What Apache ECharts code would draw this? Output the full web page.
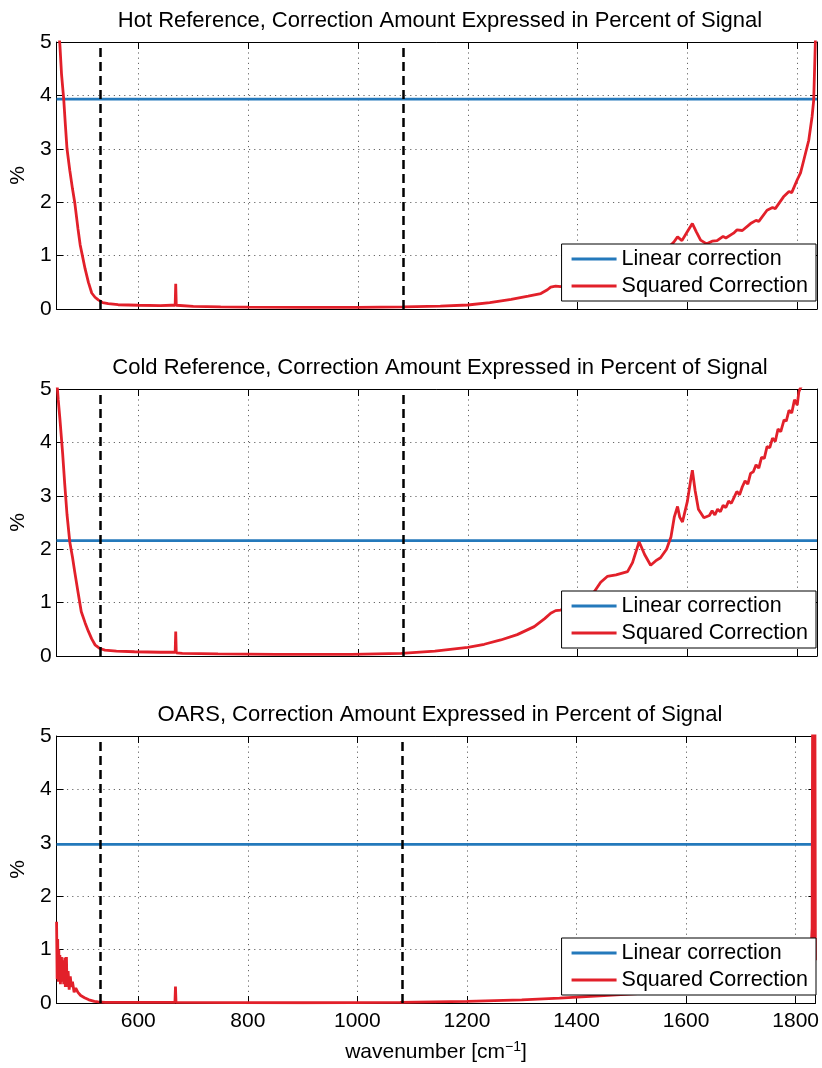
<!DOCTYPE html>
<html>
<head>
<meta charset="utf-8">
<script src="https://cdn.jsdelivr.net/npm/echarts@6/dist/echarts.min.js"></script>
<style>
html,body{margin:0;padding:0;background:#fff;}
#chart{width:822px;height:1068px;}
</style>
</head>
<body>
<div id="chart"></div>
<script>
// ---------- data ----------
const titles = [
  'Hot Reference, Correction Amount Expressed in Percent of Signal',
  'Cold Reference, Correction Amount Expressed in Percent of Signal',
  'OARS, Correction Amount Expressed in Percent of Signal'
];
const xTicks = [600, 800, 1000, 1200, 1400, 1600, 1800];
const yTicks = [0, 1, 2, 3, 4, 5];
const xRange = [451, 1836];
const cutoffs = [530, 1082];
const linearHot = 3.93;
const linearCold = 2.16;
const linearOars = 2.97;

const squaredHot = [
  [451,5.8],[454,5.3],[457,4.95],[460,4.4],[464,3.93],[467,3.45],[470,3.0],[475,2.6],[480,2.25],
  [484,2.0],[490,1.5],[494,1.2],[498,1.0],[503,0.75],[509,0.5],[515,0.3],[521,0.22],[527,0.17],
  [535,0.12],[545,0.1],[563,0.08],[600,0.07],[640,0.065],[660,0.07],[667,0.07],[668,0.47],[669,0.07],
  [672,0.06],[700,0.05],[750,0.04],[800,0.035],[900,0.03],[1000,0.03],[1083,0.04],[1150,0.055],
  [1200,0.075],[1240,0.12],[1279,0.18],[1310,0.24],[1333,0.29],[1345,0.36],[1351,0.41],[1360,0.43],
  [1369,0.42],[1400,0.5],[1450,0.65],[1490,0.82],[1510,0.95],[1530,0.9],[1550,1.0],[1575,1.25],
  [1582,1.35],[1590,1.28],[1600,1.45],[1609,1.6],[1616,1.45],[1624,1.29],[1635,1.22],[1645,1.27],
  [1654,1.28],[1665,1.36],[1670,1.33],[1684,1.42],[1690,1.48],[1700,1.47],[1715,1.6],[1725,1.66],
  [1730,1.64],[1745,1.85],[1755,1.9],[1760,1.88],[1775,2.1],[1785,2.2],[1790,2.18],[1800,2.42],
  [1806,2.55],[1812,2.79],[1821,3.16],[1827,3.6],[1830,3.91],[1833,5.0],[1836,6.0]
];
const squaredCold = [
  [451,5.2],[454,4.8],[457,4.45],[462,3.8],[466,3.2],[470,2.65],[475,2.14],[480,1.85],[484,1.58],
  [490,1.2],[496,0.83],[503,0.62],[509,0.46],[515,0.32],[521,0.21],[530,0.14],[539,0.11],[560,0.09],
  [593,0.08],[640,0.07],[660,0.07],[667,0.07],[668,0.46],[669,0.06],[680,0.05],[745,0.04],[850,0.03],
  [988,0.03],[1079,0.05],[1140,0.09],[1200,0.16],[1230,0.22],[1260,0.3],[1290,0.4],[1321,0.55],
  [1340,0.7],[1351,0.8],[1360,0.85],[1369,0.86],[1390,0.95],[1410,1.05],[1430,1.2],[1442,1.38],
  [1454,1.49],[1470,1.52],[1491,1.58],[1500,1.75],[1512,2.14],[1522,1.9],[1533,1.7],[1542,1.78],
  [1551,1.84],[1562,2.0],[1570,2.23],[1576,2.6],[1582,2.8],[1586,2.6],[1591,2.51],[1600,2.9],
  [1606,3.3],[1609,3.48],[1614,3.1],[1620,2.75],[1630,2.59],[1640,2.63],[1645,2.72],[1650,2.64],
  [1655,2.75],[1660,2.7],[1665,2.82],[1670,2.78],[1675,2.9],[1680,2.86],[1685,2.97],[1690,3.08],
  [1695,3.02],[1700,3.17],[1705,3.28],[1710,3.22],[1715,3.42],[1720,3.45],[1725,3.58],[1730,3.52],
  [1735,3.72],[1740,3.7],[1745,3.92],[1750,3.9],[1755,4.08],[1760,4.02],[1765,4.25],[1770,4.2],
  [1776,4.42],[1780,4.4],[1785,4.6],[1790,4.55],[1795,4.8],[1800,4.7],[1803,4.95],[1806,5.02],
  [1815,5.2],[1836,5.4]
];
const squaredOars = [
  [451,1.52],[452,0.45],[453,1.2],[454,0.4],[455,1.0],[456,0.5],[457,0.9],[458,0.35],[460,0.86],
  [461,0.4],[463,0.8],[464,0.35],[466,0.85],[467,0.3],[469,0.86],[470,0.3],[472,0.6],[474,0.25],
  [476,0.5],[478,0.3],[480,0.4],[483,0.2],[486,0.28],[490,0.2],[495,0.14],[502,0.1],[510,0.06],
  [520,0.03],[527,0.02],[540,0.01],[660,0.01],[667,0.01],[668,0.31],[669,0.01],[900,0.005],
  [1078,0.01],[1200,0.03],[1300,0.06],[1369,0.09],[1450,0.14],[1550,0.2],[1650,0.28],[1750,0.38],
  [1800,0.45],[1820,0.6],[1827,0.8],[1830,1.4],[1831,6],[1832,1.0],[1833,6],[1834,0.9],[1835,6],[1836,0.8]
];

const linearValues = [linearHot, linearCold, linearOars];
const squaredSeries = [squaredHot, squaredCold, squaredOars];

// ---------- layout / style ----------
const FONT = 'Liberation Sans, Arial, Helvetica, sans-serif';
const BLUE = '#2479bb';
const RED = '#e2202a';
const gridTops = [42, 389, 736];
const GRID_LEFT = 55, GRID_W = 762, GRID_H = 267;

const grids = [], xAxes = [], yAxes = [], series = [], titleArr = [], legends = [];

gridTops.forEach((top, i) => {
  grids.push({left: GRID_LEFT, top: top, width: GRID_W, height: GRID_H, containLabel: false});
  titleArr.push({
    text: titles[i], left: GRID_LEFT + GRID_W / 2 - 1, top: top - 37, textAlign: 'center',
    textStyle: {fontFamily: FONT, fontSize: 22, fontWeight: 'normal', color: '#000'}
  });
  const isLast = i === 2;
  xAxes.push({
    type: 'value', gridIndex: i, min: xRange[0], max: xRange[1], position: 'bottom',
    axisLine: {show: true, onZero: false, lineStyle: {color: '#000', width: 1}},
    axisTick: {show: true, inside: true, length: 7, customValues: xTicks, lineStyle: {color: '#000'}},
    axisLabel: {show: isLast, customValues: xTicks, margin: 8, fontFamily: FONT, fontSize: 21, color: '#000',
      formatter: v => String(v)},
    splitLine: {show: true, lineStyle: {color: '#666', width: 1, type: [1.2, 4]}},
    name: isLast ? 'wavenumber [cm{sup|\u22121}]' : '',
    nameLocation: 'middle', nameGap: 37,
    nameTextStyle: {fontFamily: FONT, fontSize: 21, color: '#000',
      rich: {sup: {fontFamily: FONT, fontSize: 14, verticalAlign: 'top', padding: [0, 0, 10, 0], color: '#000'}}}
  });
  yAxes.push({
    type: 'value', gridIndex: i, min: 0, max: 5, interval: 1, position: 'left',
    axisLine: {show: true, onZero: false, lineStyle: {color: '#000', width: 1}},
    axisTick: {show: true, inside: true, length: 7, lineStyle: {color: '#000'}},
    axisLabel: {show: true, margin: 5, fontFamily: FONT, fontSize: 21, color: '#000'},
    splitLine: {show: true, lineStyle: {color: '#666', width: 1, type: [1.2, 4]}},
    name: '%', nameLocation: 'middle', nameGap: 27, nameRotate: 90,
    nameTextStyle: {fontFamily: FONT, fontSize: 21, color: '#000'}
  });
});
gridTops.forEach((top, i) => {
  xAxes.push({
    type: 'value', gridIndex: i, min: xRange[0], max: xRange[1], position: 'top',
    axisLine: {show: true, onZero: false, lineStyle: {color: '#000', width: 1}},
    axisTick: {show: true, inside: true, length: 7, customValues: xTicks, lineStyle: {color: '#000'}},
    axisLabel: {show: false}, splitLine: {show: false}
  });
  yAxes.push({
    type: 'value', gridIndex: i, min: 0, max: 5, interval: 1, position: 'right',
    axisLine: {show: true, onZero: false, lineStyle: {color: '#000', width: 1}},
    axisTick: {show: true, inside: true, length: 7, lineStyle: {color: '#000'}},
    axisLabel: {show: false}, splitLine: {show: false}
  });
});

gridTops.forEach((top, i) => {
  series.push({
    name: 'Linear correction', type: 'line', xAxisIndex: i, yAxisIndex: i,
    data: [[xRange[0], linearValues[i]], [xRange[1], linearValues[i]]],
    symbol: 'none', lineStyle: {color: BLUE, width: 2.8}, itemStyle: {color: BLUE},
    z: 3, silent: true
  });
  series.push({
    name: 'Squared Correction', type: 'line', xAxisIndex: i, yAxisIndex: i,
    data: squaredSeries[i], clip: true,
    symbol: 'none', lineStyle: {color: RED, width: 2.8}, itemStyle: {color: RED},
    z: 4, silent: true,
    markLine: {
      silent: true, symbol: 'none', label: {show: false},
      lineStyle: {color: '#000', width: 2.5, type: [9, 5]},
      data: cutoffs.map(c => ({xAxis: c})), z: 5
    }
  });
  legends.push({
    data: ['Linear correction', 'Squared Correction'],
    orient: 'vertical', right: 6, top: top + 202,
    backgroundColor: '#fff', borderColor: '#000', borderWidth: 1, borderRadius: 0,
    padding: [4, 8, 4, 10], itemGap: 5, itemWidth: 45, itemHeight: 3, icon: 'rect',
    textStyle: {fontFamily: FONT, fontSize: 21.5, color: '#000'},
    selectedMode: false, z: 10
  });
});

const chart = echarts.init(document.getElementById('chart'), null, {renderer: 'canvas'});
chart.setOption({
  animation: false,
  backgroundColor: '#fff',
  title: titleArr,
  grid: grids,
  xAxis: xAxes,
  yAxis: yAxes,
  legend: legends,
  series: series
});
</script>
</body>
</html>
